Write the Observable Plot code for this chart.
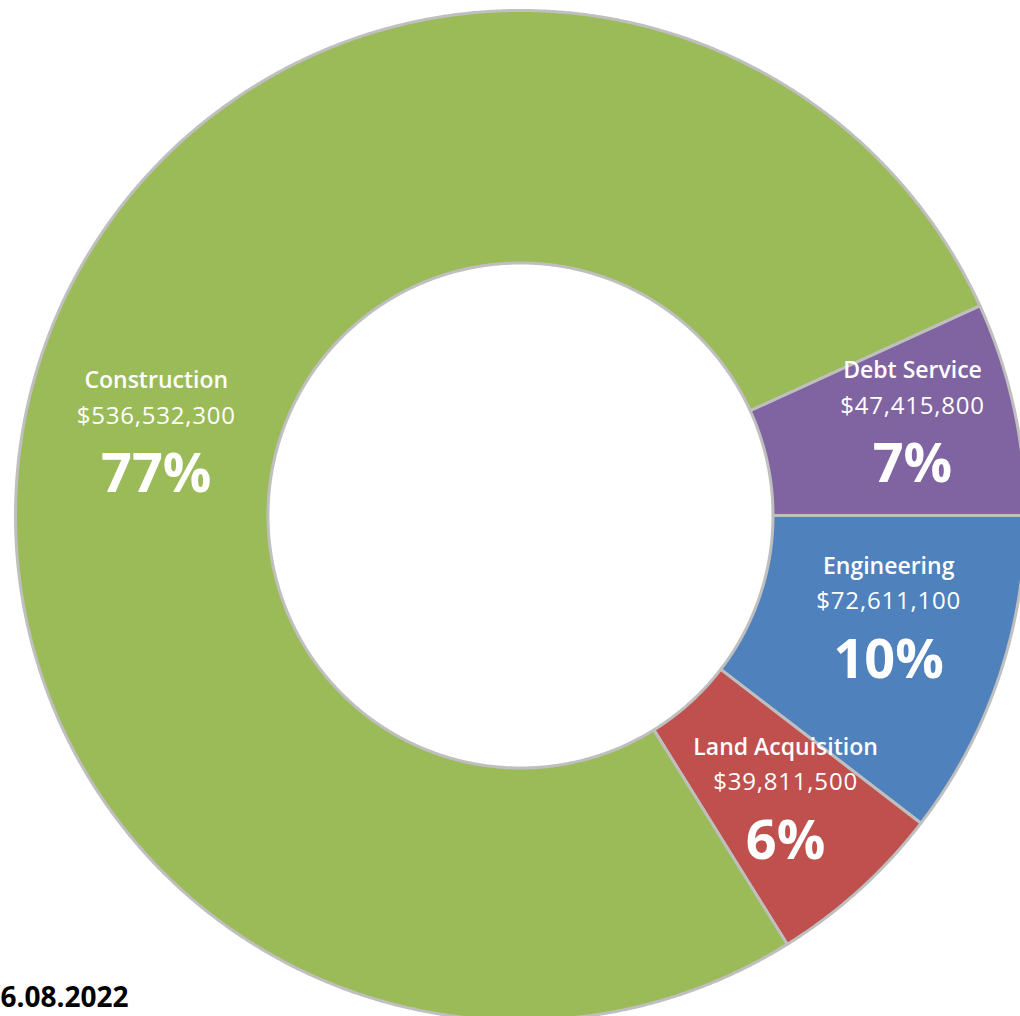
<!DOCTYPE html>
<html>
<head>
<meta charset="utf-8">
<script src="https://cdn.jsdelivr.net/npm/d3@7"></script>
<script src="https://cdn.jsdelivr.net/npm/@observablehq/plot@0.6"></script>
<style>
  html, body { margin: 0; padding: 0; background: #fff; overflow: hidden; }
  #chart svg { display: block; }
</style>
</head>
<body>
<div id="chart"></div>
<script>
// ---- data (clockwise from 3 o'clock) ----
const categories = ["Engineering", "Land Acquisition", "Construction", "Debt Service"];
const values = [72611100, 39811500, 536532300, 47415800];
const colors = ["#4F81BD", "#C0504D", "#9BBB59", "#8064A2"];
const dateLabel = "6.08.2022";

// ---- layout ----
const W = 1020, H = 1016;
const cx = 520, cy = 515, R = 505;
const inner = 0.5;
const labelR = 0.77;
// pixel nudges for label blocks (layout only)
const labelNudge = {
  "Engineering": [0, -16],
  "Land Acquisition": [4, 2],
  "Construction": [8, 36],
  "Debt Service": [12, -4]
};

const total = d3.sum(values);
const slices = [];
let acc = 0;
categories.forEach((c, i) => {
  const a0 = -acc / total * 2 * Math.PI;
  acc += values[i];
  const a1 = -acc / total * 2 * Math.PI;
  slices.push({cat: c, value: values[i], a0, a1, pct: values[i] / total});
});

// polygon points for each ring slice
const pts = [];
for (const s of slices) {
  const n = Math.max(8, Math.ceil(Math.abs(s.a1 - s.a0) / (Math.PI / 720)));
  for (let k = 0; k <= n; k++) {
    const a = s.a0 + (s.a1 - s.a0) * k / n;
    pts.push({cat: s.cat, x: Math.cos(a), y: Math.sin(a)});
  }
  for (let k = n; k >= 0; k--) {
    const a = s.a0 + (s.a1 - s.a0) * k / n;
    pts.push({cat: s.cat, x: inner * Math.cos(a), y: inner * Math.sin(a)});
  }
}

const labels = slices.map(s => {
  const m = (s.a0 + s.a1) / 2;
  const [nx, ny] = labelNudge[s.cat] || [0, 0];
  return {
    ...s,
    x: labelR * Math.cos(m) + nx / R,
    y: labelR * Math.sin(m) - ny / R,
    money: "$" + d3.format(",")(s.value),
    pctText: Math.round(s.pct * 100) + "%"
  };
});

const font = "'Open Sans', 'Liberation Sans', sans-serif";

const chart = Plot.plot({
  width: W,
  height: H,
  margin: 0,
  style: {background: "#fff", fontFamily: font, overflow: "hidden"},
  x: {domain: [-cx / R, (W - cx) / R], axis: null},
  y: {domain: [-(H - cy) / R, cy / R], axis: null},
  color: {domain: categories, range: colors},
  marks: [
    Plot.line(pts, {
      x: "x", y: "y", z: "cat", fill: "cat",
      stroke: "#BFBFBF", strokeWidth: 3, curve: "linear-closed"
    }),
    Plot.text(labels, {
      x: "x", y: "y", text: "cat", dy: -58,
      fill: "white", fontSize: 23, fontWeight: 600
    }),
    Plot.text(labels, {
      x: "x", y: "y", text: "money", dy: -23,
      fill: "white", fontSize: 24, fontWeight: 400
    }),
    Plot.text(labels, {
      x: "x", y: "y", text: "pctText", dy: 36,
      fill: "white", fontSize: 54, fontWeight: 700
    }),
    Plot.text([dateLabel], {
      frameAnchor: "bottom-left", text: d => d, textAnchor: "start",
      dx: 0, dy: -10, fill: "#000", fontSize: 28, fontWeight: 700
    })
  ]
});

chart.querySelectorAll("text").forEach(t => {
  if (t.textContent.startsWith("$")) t.setAttribute("letter-spacing", "0.8");
});
document.getElementById("chart").appendChild(chart);
</script>
</body>
</html>
